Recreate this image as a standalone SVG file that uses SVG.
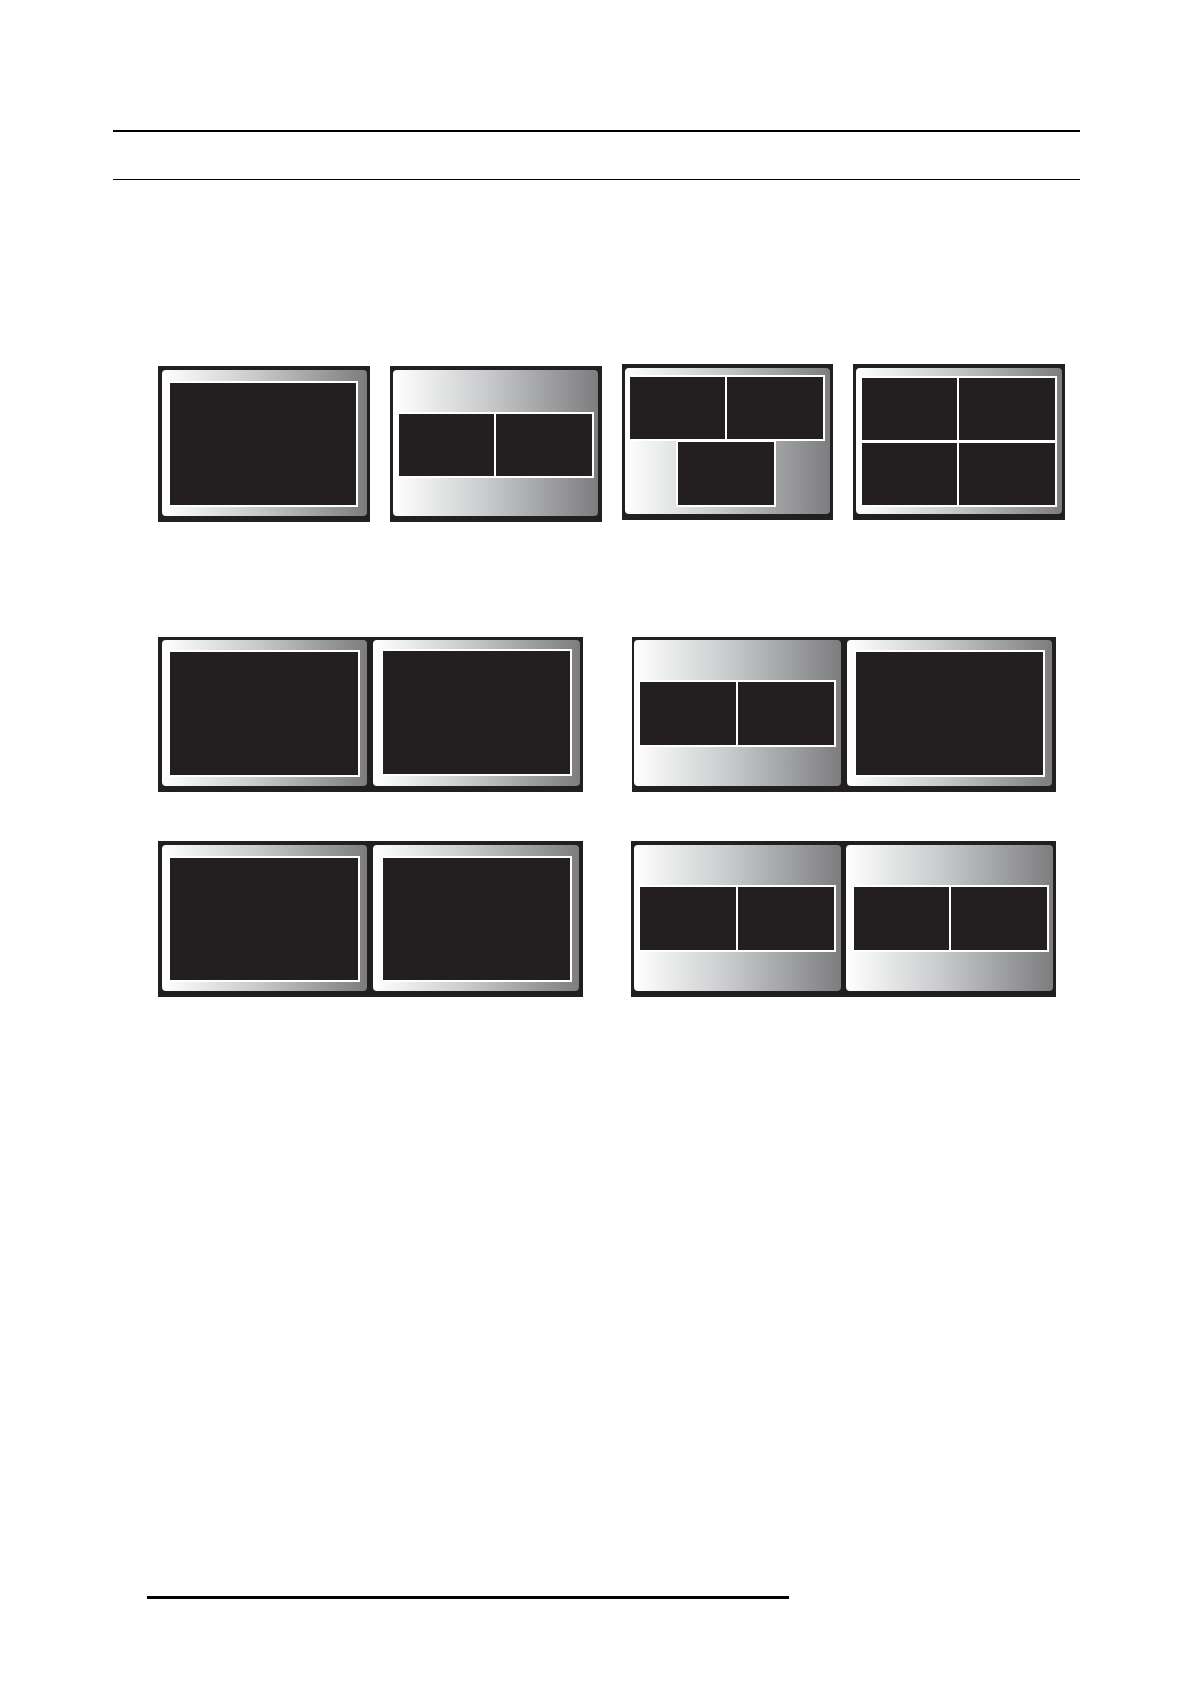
<svg xmlns="http://www.w3.org/2000/svg" width="1190" height="1684" viewBox="0 0 1190 1684">
<defs>
<linearGradient id="metal" x1="0" y1="0" x2="1" y2="0">
<stop offset="0" stop-color="#ffffff"/>
<stop offset="0.45" stop-color="#c9cbcc"/>
<stop offset="1" stop-color="#7d7d7f"/>
</linearGradient>
</defs>
<style>
.frame{fill:#231f20}
.panel{fill:url(#metal)}
.wb{fill:#ffffff}
.blk{fill:#231f20}
</style>
<rect width="1190" height="1684" fill="#ffffff"/>
<g id="rules">
<line x1="113" y1="131" x2="1080" y2="131" stroke="#000" stroke-width="2"/>
<line x1="113" y1="179.5" x2="1080" y2="179.5" stroke="#000" stroke-width="1"/>
<line x1="147" y1="1597.5" x2="789" y2="1597.5" stroke="#000" stroke-width="3"/>
</g>
<g id="connectors"/>
<g id="screen-single">
<rect class="frame" x="158" y="366" width="212" height="156"/>
<rect class="panel" x="162" y="370" width="205" height="146" rx="4"/>
<rect class="wb" x="168" y="381" width="190" height="126"/>
<rect class="blk" x="170" y="383" width="186" height="122"/>
</g>
<g id="screen-two-pip">
<rect class="frame" x="390" y="366" width="212" height="156"/>
<rect class="panel" x="393" y="370" width="205" height="146" rx="4"/>
<rect class="wb" x="397" y="412" width="197" height="66"/>
<rect class="blk" x="399" y="414" width="95" height="62"/>
<rect class="blk" x="496" y="414" width="96" height="62"/>
</g>
<g id="screen-three">
<rect class="frame" x="622" y="364" width="211" height="156"/>
<rect class="panel" x="625" y="368" width="205" height="146" rx="4"/>
<rect class="wb" x="628" y="375" width="197" height="66"/>
<rect class="blk" x="630" y="377" width="95" height="62"/>
<rect class="blk" x="727" y="377" width="96" height="62"/>
<rect class="wb" x="676" y="440" width="100" height="67"/>
<rect class="blk" x="678" y="442" width="96" height="63"/>
</g>
<g id="screen-quad">
<rect class="frame" x="853" y="364" width="212" height="156"/>
<rect class="panel" x="856" y="368" width="206" height="146" rx="4"/>
<rect class="wb" x="860" y="376" width="197" height="131"/>
<rect class="blk" x="862" y="378" width="95" height="62"/>
<rect class="blk" x="959" y="378" width="96" height="62"/>
<rect class="blk" x="862" y="443" width="95" height="62"/>
<rect class="blk" x="959" y="443" width="96" height="62"/>
</g>
<g id="dual-full-1">
<rect class="frame" x="158" y="637" width="425" height="155"/>
<rect class="panel" x="162" y="640" width="205" height="146" rx="4"/>
<rect class="panel" x="373" y="640" width="207" height="146" rx="4"/>
<rect class="wb" x="168" y="650" width="192" height="127"/>
<rect class="blk" x="170" y="652" width="188" height="123"/>
<rect class="wb" x="381" y="649" width="191" height="127"/>
<rect class="blk" x="383" y="651" width="187" height="123"/>
</g>
<g id="dual-pip-full">
<rect class="frame" x="632" y="637" width="424" height="155"/>
<rect class="panel" x="634" y="640" width="207" height="146" rx="4"/>
<rect class="panel" x="847" y="640" width="205" height="146" rx="4"/>
<rect class="wb" x="638" y="680" width="198" height="67"/>
<rect class="blk" x="640" y="682" width="96" height="63"/>
<rect class="blk" x="738" y="682" width="96" height="63"/>
<rect class="wb" x="854" y="650" width="191" height="127"/>
<rect class="blk" x="856" y="652" width="187" height="123"/>
</g>
<g id="dual-full-2">
<rect class="frame" x="158" y="841" width="425" height="156"/>
<rect class="panel" x="162" y="845" width="205" height="146" rx="4"/>
<rect class="panel" x="373" y="845" width="206" height="146" rx="4"/>
<rect class="wb" x="168" y="856" width="192" height="126"/>
<rect class="blk" x="170" y="858" width="188" height="122"/>
<rect class="wb" x="381" y="856" width="191" height="126"/>
<rect class="blk" x="383" y="858" width="187" height="122"/>
</g>
<g id="dual-pip-pip">
<rect class="frame" x="631" y="841" width="425" height="156"/>
<rect class="panel" x="634" y="845" width="207" height="146" rx="4"/>
<rect class="panel" x="846" y="845" width="207" height="146" rx="4"/>
<rect class="wb" x="638" y="885" width="198" height="67"/>
<rect class="blk" x="640" y="887" width="96" height="63"/>
<rect class="blk" x="738" y="887" width="96" height="63"/>
<rect class="wb" x="852" y="885" width="197" height="67"/>
<rect class="blk" x="854" y="887" width="95" height="63"/>
<rect class="blk" x="951" y="887" width="96" height="63"/>
</g>
</svg>
